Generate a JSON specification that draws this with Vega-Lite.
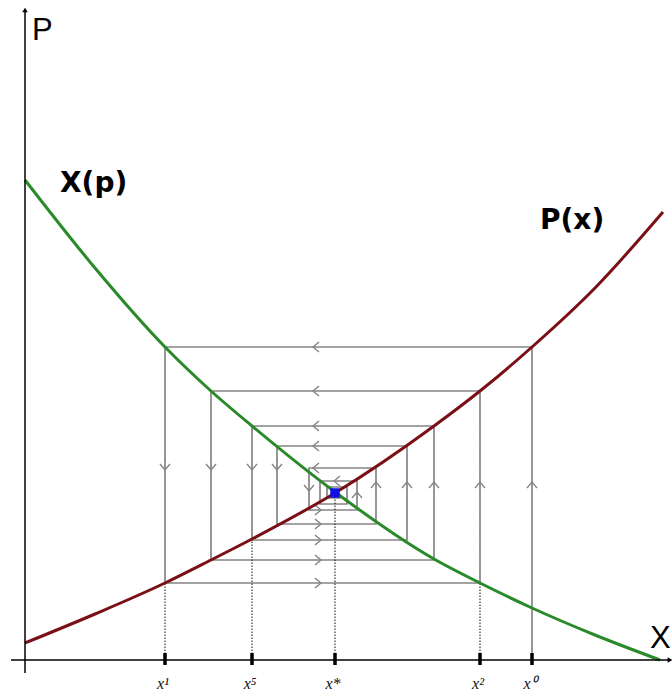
{
  "$schema": "https://vega.github.io/schema/vega-lite/v6.json",
  "width": 672,
  "height": 693,
  "autosize": {"type": "none"},
  "padding": 0,
  "background": "white",
  "config": {"view": {"stroke": null}},
  "datasets": {
    "green": [
      {"u": 0, "v": 480}, {"u": 70, "v": 392}, {"u": 140, "v": 313}, {"u": 186, "v": 269},
      {"u": 227, "v": 234}, {"u": 310, "v": 168}, {"u": 409, "v": 101}, {"u": 455, "v": 77},
      {"u": 507, "v": 52}, {"u": 570, "v": 25}, {"u": 635, "v": 0}
    ],
    "red": [
      {"u": 0, "v": 17}, {"u": 70, "v": 46}, {"u": 140, "v": 77}, {"u": 186, "v": 100},
      {"u": 227, "v": 121}, {"u": 310, "v": 167}, {"u": 409, "v": 234}, {"u": 455, "v": 269},
      {"u": 507, "v": 313}, {"u": 570, "v": 372}, {"u": 638, "v": 448}
    ],
    "cobweb": [
      {"i": 0, "u": 507, "v": 0}, {"i": 1, "u": 507, "v": 313}, {"i": 2, "u": 140, "v": 313},
      {"i": 3, "u": 140, "v": 77}, {"i": 4, "u": 455, "v": 77}, {"i": 5, "u": 455, "v": 269},
      {"i": 6, "u": 186, "v": 269}, {"i": 7, "u": 186, "v": 100}, {"i": 8, "u": 409, "v": 100},
      {"i": 9, "u": 409, "v": 234}, {"i": 10, "u": 227, "v": 234}, {"i": 11, "u": 227, "v": 120},
      {"i": 12, "u": 382, "v": 120}, {"i": 13, "u": 382, "v": 214}, {"i": 14, "u": 252, "v": 214},
      {"i": 15, "u": 252, "v": 136}, {"i": 16, "u": 351, "v": 136}, {"i": 17, "u": 351, "v": 192},
      {"i": 18, "u": 284, "v": 192}, {"i": 19, "u": 284, "v": 150}, {"i": 20, "u": 332, "v": 150},
      {"i": 21, "u": 332, "v": 179}, {"i": 22, "u": 295, "v": 179}, {"i": 23, "u": 295, "v": 156},
      {"i": 24, "u": 322, "v": 156}, {"i": 25, "u": 322, "v": 173}, {"i": 26, "u": 302, "v": 173},
      {"i": 27, "u": 302, "v": 162}, {"i": 28, "u": 316, "v": 162}
    ],
    "dotted": [
      {"u": 140, "v": 0, "v2": 77}, {"u": 227, "v": 0, "v2": 120},
      {"u": 310, "v": 0, "v2": 167}, {"u": 455, "v": 0, "v2": 77}
    ],
    "chevrons": [
      {"u": 291, "v": 313, "dir": "left"}, {"u": 291, "v": 269, "dir": "left"},
      {"u": 291, "v": 234, "dir": "left"}, {"u": 291, "v": 214, "dir": "left"},
      {"u": 291, "v": 192, "dir": "left"}, {"u": 312, "v": 179, "dir": "left"},
      {"u": 293, "v": 77, "dir": "right"}, {"u": 293, "v": 100, "dir": "right"},
      {"u": 293, "v": 120, "dir": "right"}, {"u": 293, "v": 136, "dir": "right"},
      {"u": 293, "v": 150, "dir": "right"},
      {"u": 140, "v": 193, "dir": "down"}, {"u": 186, "v": 193, "dir": "down"},
      {"u": 227, "v": 193, "dir": "down"}, {"u": 252, "v": 193, "dir": "down"},
      {"u": 284, "v": 172, "dir": "down"},
      {"u": 507, "v": 175, "dir": "up"}, {"u": 455, "v": 175, "dir": "up"},
      {"u": 409, "v": 175, "dir": "up"}, {"u": 382, "v": 175, "dir": "up"},
      {"u": 351, "v": 175, "dir": "up"}, {"u": 332, "v": 165, "dir": "up"}
    ],
    "ticks": [
      {"u": 140, "label": "x¹"}, {"u": 227, "label": "x⁵"}, {"u": 310, "label": "x*"},
      {"u": 455, "label": "x²"}, {"u": 507, "label": "x⁰"}
    ],
    "axes": [
      {"u": 0, "v": -13, "u2": 0, "v2": 648},
      {"u": -14, "v": 0, "u2": 643, "v2": 0}
    ]
  },
  "layer": [
    {
      "data": {"name": "cobweb"},
      "mark": {"type": "line", "color": "#858585", "strokeWidth": 1.7},
      "encoding": {
        "x": {"field": "u", "type": "quantitative", "scale": {"domain": [-25, 647], "nice": false, "zero": false}, "axis": null},
        "y": {"field": "v", "type": "quantitative", "scale": {"domain": [-33, 660], "nice": false, "zero": false}, "axis": null},
        "order": {"field": "i", "type": "quantitative"}
      }
    },
    {
      "data": {"name": "dotted"},
      "mark": {"type": "rule", "color": "#222222", "strokeWidth": 1.1, "strokeDash": [1.5, 1.5]},
      "encoding": {
        "x": {"field": "u", "type": "quantitative"},
        "y": {"field": "v", "type": "quantitative"},
        "y2": {"field": "v2"}
      }
    },
    {
      "data": {"name": "chevrons"},
      "mark": {"type": "point", "filled": false, "stroke": "#858585", "strokeWidth": 1.4, "size": 100, "opacity": 1},
      "encoding": {
        "x": {"field": "u", "type": "quantitative"},
        "y": {"field": "v", "type": "quantitative"},
        "shape": {
          "field": "dir", "type": "nominal", "legend": null,
          "scale": {
            "domain": ["left", "right", "up", "down"],
            "range": ["M0.6,-1L-0.6,0L0.6,1", "M-0.6,-1L0.6,0L-0.6,1", "M-1,0.6L0,-0.6L1,0.6", "M-1,-0.6L0,0.6L1,-0.6"]
          }
        }
      }
    },
    {
      "data": {"name": "green"},
      "mark": {"type": "line", "color": "#2a8a2a", "strokeWidth": 3, "interpolate": "monotone"},
      "encoding": {
        "x": {"field": "u", "type": "quantitative"},
        "y": {"field": "v", "type": "quantitative"}
      }
    },
    {
      "data": {"name": "red"},
      "mark": {"type": "line", "color": "#7a1016", "strokeWidth": 3, "interpolate": "monotone"},
      "encoding": {
        "x": {"field": "u", "type": "quantitative"},
        "y": {"field": "v", "type": "quantitative"}
      }
    },
    {
      "data": {"values": [{"u": 310, "v": 167}]},
      "mark": {"type": "point", "shape": "square", "filled": true, "color": "#1010e0", "size": 90, "opacity": 1},
      "encoding": {
        "x": {"field": "u", "type": "quantitative"},
        "y": {"field": "v", "type": "quantitative"}
      }
    },
    {
      "data": {"name": "axes"},
      "mark": {"type": "rule", "color": "#000000", "strokeWidth": 1.5},
      "encoding": {
        "x": {"field": "u", "type": "quantitative"},
        "y": {"field": "v", "type": "quantitative"},
        "x2": {"field": "u2"},
        "y2": {"field": "v2"}
      }
    },
    {
      "data": {"values": [{"u": 0, "v": 650}]},
      "mark": {"type": "point", "shape": "triangle-up", "filled": true, "color": "#000000", "size": 30, "opacity": 1},
      "encoding": {
        "x": {"field": "u", "type": "quantitative"},
        "y": {"field": "v", "type": "quantitative"}
      }
    },
    {
      "data": {"values": [{"u": 645, "v": 0}]},
      "mark": {"type": "point", "shape": "triangle-right", "filled": true, "color": "#000000", "size": 30, "opacity": 1},
      "encoding": {
        "x": {"field": "u", "type": "quantitative"},
        "y": {"field": "v", "type": "quantitative"}
      }
    },
    {
      "data": {"name": "ticks"},
      "transform": [{"calculate": "-5", "as": "lo"}, {"calculate": "7", "as": "hi"}],
      "mark": {"type": "rule", "color": "#000000", "strokeWidth": 3.5},
      "encoding": {
        "x": {"field": "u", "type": "quantitative"},
        "y": {"field": "lo", "type": "quantitative"},
        "y2": {"field": "hi"}
      }
    },
    {
      "data": {"name": "ticks"},
      "transform": [{"calculate": "-24", "as": "lv"}],
      "mark": {"type": "text", "font": "Liberation Serif", "fontStyle": "italic", "fontSize": 16, "color": "#111111", "baseline": "middle", "align": "center", "dx": -2},
      "encoding": {
        "x": {"field": "u", "type": "quantitative"},
        "y": {"field": "lv", "type": "quantitative"},
        "text": {"field": "label"}
      }
    },
    {
      "data": {"values": [
        {"u": 7, "v": 620, "t": "P"},
        {"u": 625, "v": 12, "t": "X"}
      ]},
      "mark": {"type": "text", "font": "Liberation Sans", "fontSize": 31, "color": "#000000", "align": "left", "baseline": "alphabetic"},
      "encoding": {
        "x": {"field": "u", "type": "quantitative"},
        "y": {"field": "v", "type": "quantitative"},
        "text": {"field": "t"}
      }
    },
    {
      "data": {"values": [
        {"u": 35, "v": 468, "t": "X(p)"},
        {"u": 515, "v": 431, "t": "P(x)"}
      ]},
      "mark": {"type": "text", "font": "DejaVu Sans", "fontWeight": "bold", "fontSize": 28, "color": "#000000", "align": "left", "baseline": "alphabetic"},
      "encoding": {
        "x": {"field": "u", "type": "quantitative"},
        "y": {"field": "v", "type": "quantitative"},
        "text": {"field": "t"}
      }
    }
  ]
}
